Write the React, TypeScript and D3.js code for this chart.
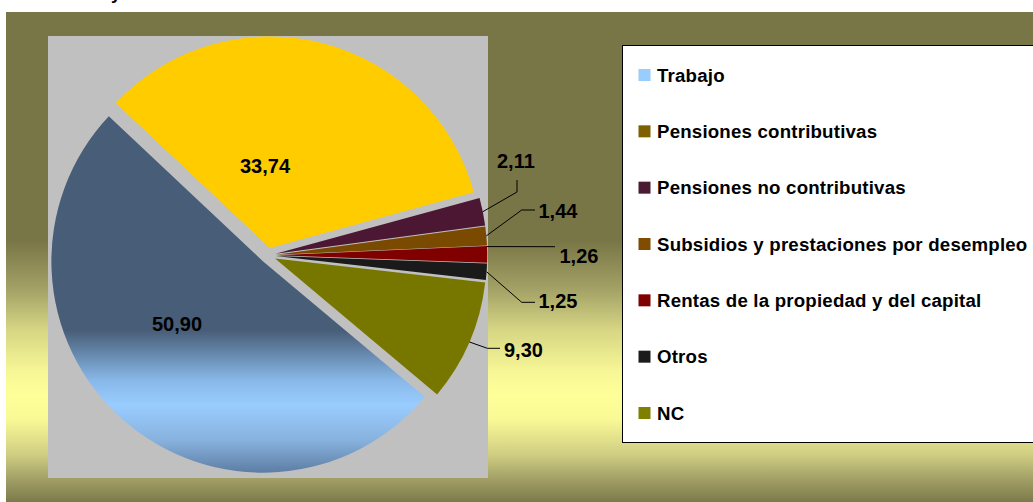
import React from "react";
import * as d3 from "d3";

const categories = [
  "Trabajo",
  "Pensiones contributivas",
  "Pensiones no contributivas",
  "Subsidios y prestaciones por desempleo",
  "Rentas de la propiedad y del capital",
  "Otros",
  "NC",
];
const values = [50.9, 33.74, 2.11, 1.44, 1.26, 1.25, 9.3];
const sliceColors = ["url(#trabajoGrad)", "#FFCC00", "#4B1732", "#7A4A00", "#800000", "#1A1A1A", "#777700"];
const legendColors = ["#99CCFF", "#7F6000", "#4B1A33", "#804C00", "#800000", "#1C1C1C", "#7F7F00"];

// label layout (positions only)
const labelLayout = [
  { x: 152, y: 331, leader: null as null | number[][], frac: 0.5 },
  { x: 240, y: 172.5, leader: null, frac: 0.5 },
  { x: 497, y: 168, leader: [[517, 180], [517, 192]], frac: 0.5 },
  { x: 538.5, y: 218, leader: [[535, 210], [521.7, 210]], frac: 0.5 },
  { x: 559.5, y: 263, leader: [[555, 246.7]], frac: 0.03 },
  { x: 538.5, y: 308, leader: [[535, 302.3], [521.7, 302.3]], frac: 0.5 },
  { x: 504, y: 356.5, leader: [[500, 348.3], [487.3, 348.3]], frac: 0.5 },
];

const W = 1033;
const H = 502;
const cx = 268;
const cy = 255.4;
const R = 211.5;
const explode = 7.7;
const startDeg = 130;

const fmt = (v: number) => d3.format(".2f")(v).replace(".", ",");

export default function App() {
  const pie = d3
    .pie<number>()
    .sort(null)
    .value((d) => d)
    .startAngle((startDeg * Math.PI) / 180)
    .endAngle((startDeg * Math.PI) / 180 + 2 * Math.PI);
  const arcs = pie(values);
  const arcGen = d3.arc<d3.PieArcDatum<number>>().innerRadius(0).outerRadius(R);

  const legendY = d3.scalePoint<string>().domain(categories).range([75, 413]);

  const font = "'Liberation Sans', Arial, Helvetica, sans-serif";

  const offsets = arcs.map((a) => {
    const mid = (a.startAngle + a.endAngle) / 2;
    return [cx + explode * Math.sin(mid), cy - explode * Math.cos(mid)];
  });

  return (
    <div style={{ position: "absolute", left: 0, top: 0, width: W, height: H }}>
      <svg width={W} height={H} style={{ display: "block" }}>
        <defs>
          <linearGradient id="bgGrad" gradientUnits="userSpaceOnUse" x1={0} y1={12} x2={0} y2={502}>
            <stop offset={0} stopColor="#787546" />
            <stop offset={0.465} stopColor="#787546" />
            <stop offset={0.567} stopColor="#A4A266" />
            <stop offset={0.649} stopColor="#D6D684" />
            <stop offset={0.731} stopColor="#F6F696" />
            <stop offset={0.782} stopColor="#FFFF99" />
            <stop offset={0.833} stopColor="#F8F896" />
            <stop offset={0.904} stopColor="#CFCD82" />
            <stop offset={0.955} stopColor="#A09E64" />
            <stop offset={1} stopColor="#7C7A4A" />
          </linearGradient>
          <linearGradient
            id="trabajoGrad"
            gradientUnits="userSpaceOnUse"
            x1={0}
            y1={40 - offsets[0][1]}
            x2={0}
            y2={475 - offsets[0][1]}
          >
            <stop offset={0} stopColor="#485D77" />
            <stop offset={0.667} stopColor="#485D77" />
            <stop offset={0.782} stopColor="#88B8E8" />
            <stop offset={0.839} stopColor="#99CCFF" />
            <stop offset={0.92} stopColor="#88B2DE" />
            <stop offset={1} stopColor="#5A7AA0" />
          </linearGradient>
        </defs>
        <rect x={0} y={0} width={W} height={H} fill="#FFFFFF" />
        <text x={111} y={-1} fontFamily={font} fontWeight="bold" fontSize={18} fill="#000">
          y
        </text>
        <rect x={6} y={12} width={W - 6} height={H - 12} fill="url(#bgGrad)" />
        <rect x={48} y={36} width={440} height={442} fill="#C0C0C0" />
        {arcs.map((a, i) => (
          <path
            key={categories[i]}
            d={arcGen(a) || ""}
            transform={`translate(${offsets[i][0]},${offsets[i][1]})`}
            fill={sliceColors[i]}
          />
        ))}
        {arcs.map((a, i) => {
          const lay = labelLayout[i];
          if (!lay.leader) return null;
          const [ox, oy] = offsets[i];
          const ang = a.startAngle + lay.frac * (a.endAngle - a.startAngle);
          const px = ox + R * Math.sin(ang);
          const py = oy - R * Math.cos(ang);
          const pts = [...lay.leader, [px, py]];
          return (
            <polyline
              key={"l" + i}
              points={pts.map((p) => p.join(",")).join(" ")}
              fill="none"
              stroke="#000"
              strokeWidth={1}
            />
          );
        })}
        {values.map((v, i) => (
          <text
            key={"t" + i}
            x={labelLayout[i].x}
            y={labelLayout[i].y}
            fontFamily={font}
            fontWeight="bold"
            fontSize={20}
            fill="#000"
          >
            {fmt(v)}
          </text>
        ))}
        <rect x={622.5} y={45.5} width={420} height={397} fill="#FFFFFF" stroke="#000" strokeWidth={1} />
        {categories.map((c, i) => {
          const y = legendY(c) as number;
          return (
            <g key={"lg" + i}>
              <rect x={638.5} y={y - 6} width={12} height={12} fill={legendColors[i]} />
              <text
                x={657}
                y={y + 6.7}
                fontFamily={font}
                fontWeight="bold"
                fontSize={18.67}
                letterSpacing={0.2}
                fill="#000"
              >
                {c}
              </text>
            </g>
          );
        })}
      </svg>
    </div>
  );
}
